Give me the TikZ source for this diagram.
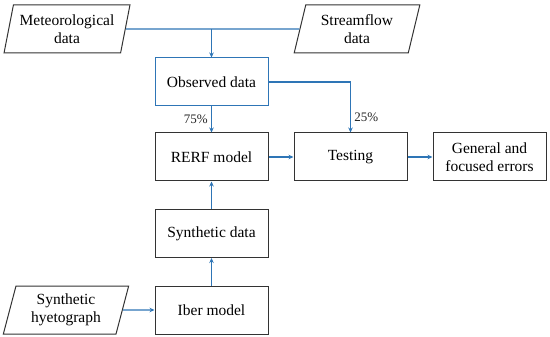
\documentclass[tikz,border=0pt]{standalone}
\usepackage{fontspec}
\setmainfont{Liberation Serif}
\usepackage{tikz}
\usetikzlibrary{positioning, shapes.geometric, arrows.meta, calc}
\definecolor{flowblue}{RGB}{46,117,182}
\tikzset{
	boxnode/.style={draw=black!80, line width=1pt, minimum width=113pt, minimum height=48pt,
		align=center, font=\fontsize{15.5}{18}\selectfont},
	datanode/.style={trapezium, trapezium left angle=76, trapezium right angle=104,
		trapezium stretches=true, draw=black!80, line width=1pt,
		minimum width=126pt, minimum height=48pt, align=center, font=\fontsize{15.5}{18}\selectfont},
	flow/.style={draw=flowblue, line width=1.1pt},
	pctlabel/.style={font=\fontsize{13}{14}\selectfont, text=black!85}
}

\begin{document}
\begin{tikzpicture}[x=1pt, y=-1pt, >={Stealth[length=5pt,width=4.5pt]}]
      \useasboundingbox (0,0) rectangle (550,337);
      % inputs
      \node[datanode] (met) at (67,29) {Meteorological\\data};
      \node[datanode] (stream) at (357,29) {Streamflow\\data};
      \node[datanode] (hyeto) at (66,310) {Synthetic\\hyetograph};
      % processing boxes
      \node[boxnode, draw=flowblue] (obs) at (211.5,82) {Observed data};
      \node[boxnode] (rerf) at (211.5,157) {RERF model};
      \node[boxnode] (test) at (350.5,157) {Testing};
      \node[boxnode] (err) at (489.5,157) {General and\\focused errors};
      \node[boxnode] (syn) at (211.5,233.5) {Synthetic data};
      \node[boxnode] (iber) at (211.5,310) {Iber model};
      % connectors
      \coordinate (join) at (met.east -| obs.north);
      \draw[flow] (met.east) -- (stream.west);
      \draw[flow,->] (join) -- (obs.north);
      \draw[flow,->] (obs.south) -- node[pctlabel, left, pos=0.5] {75\%} (rerf.north);
      \draw[flow,->] (obs.east) -| node[pctlabel, right, pos=0.85] {25\%} (test.north);
      \draw[flow,->] (rerf.east) -- (test.west);
      \draw[flow,->] (test.east) -- (err.west);
      \draw[flow,->] (syn.north) -- (rerf.south);
      \draw[flow,->] (iber.north) -- (syn.south);
      \draw[flow,->] (hyeto.east) -- (iber.west);
    \end{tikzpicture}
\end{document}
